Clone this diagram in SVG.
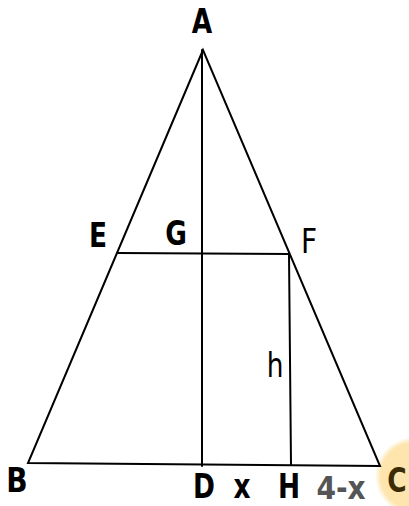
<svg xmlns="http://www.w3.org/2000/svg" width="409" height="506" viewBox="0 0 409 506">
<style>
.ln{stroke:#000;stroke-width:2;fill:none;stroke-linecap:round}
.lb{font-family:"DejaVu Sans",sans-serif;font-size:33px;fill:#000;text-anchor:middle}
.b{font-weight:bold}
</style>
<defs>
<radialGradient id="glow" cx="0.5" cy="0.5" r="0.5">
<stop offset="0.85" stop-color="#fde5ad"/>
<stop offset="1" stop-color="#fde5ad" stop-opacity="0"/>
</radialGradient>
</defs>
<rect width="409" height="506" fill="#fff"/>
<circle cx="414" cy="476" r="39" fill="url(#glow)"/>
<g id="connectors">
<path class="ln" d="M203,50 L28,463 L380,466 Z"/>
<line class="ln" x1="202" y1="50" x2="202" y2="466"/>
<line class="ln" x1="118" y1="253" x2="289" y2="254"/>
<line class="ln" x1="289" y1="254" x2="291" y2="465"/>
</g>
<g id="A" transform="translate(202,33) scale(0.8,1)"><text class="lb b">A</text></g>
<g id="B" transform="translate(17,492) scale(0.85,1)"><text class="lb b">B</text></g>
<g id="C" transform="translate(397,492) scale(0.8,1)"><text class="lb b" style="fill:#3b2c05">C</text></g>
<g id="D" transform="translate(204,498) scale(0.8,1)"><text class="lb b">D</text></g>
<g id="E" transform="translate(98,247) scale(0.8,1)"><text class="lb b">E</text></g>
<g id="F" transform="translate(309,253) scale(0.85,1)"><text class="lb">F</text></g>
<g id="G" transform="translate(176,245) scale(0.8,1)"><text class="lb b">G</text></g>
<g id="H" transform="translate(289,498) scale(0.8,1)"><text class="lb b">H</text></g>
<g id="h" transform="translate(275,377) scale(0.8,1)"><text class="lb">h</text></g>
<g id="x" transform="translate(242,498) scale(0.8,1)"><text class="lb b">x</text></g>
<g id="fourx" transform="translate(341,499) scale(0.85,0.95)"><text class="lb b" style="fill:#555">4-x</text></g>
</svg>
